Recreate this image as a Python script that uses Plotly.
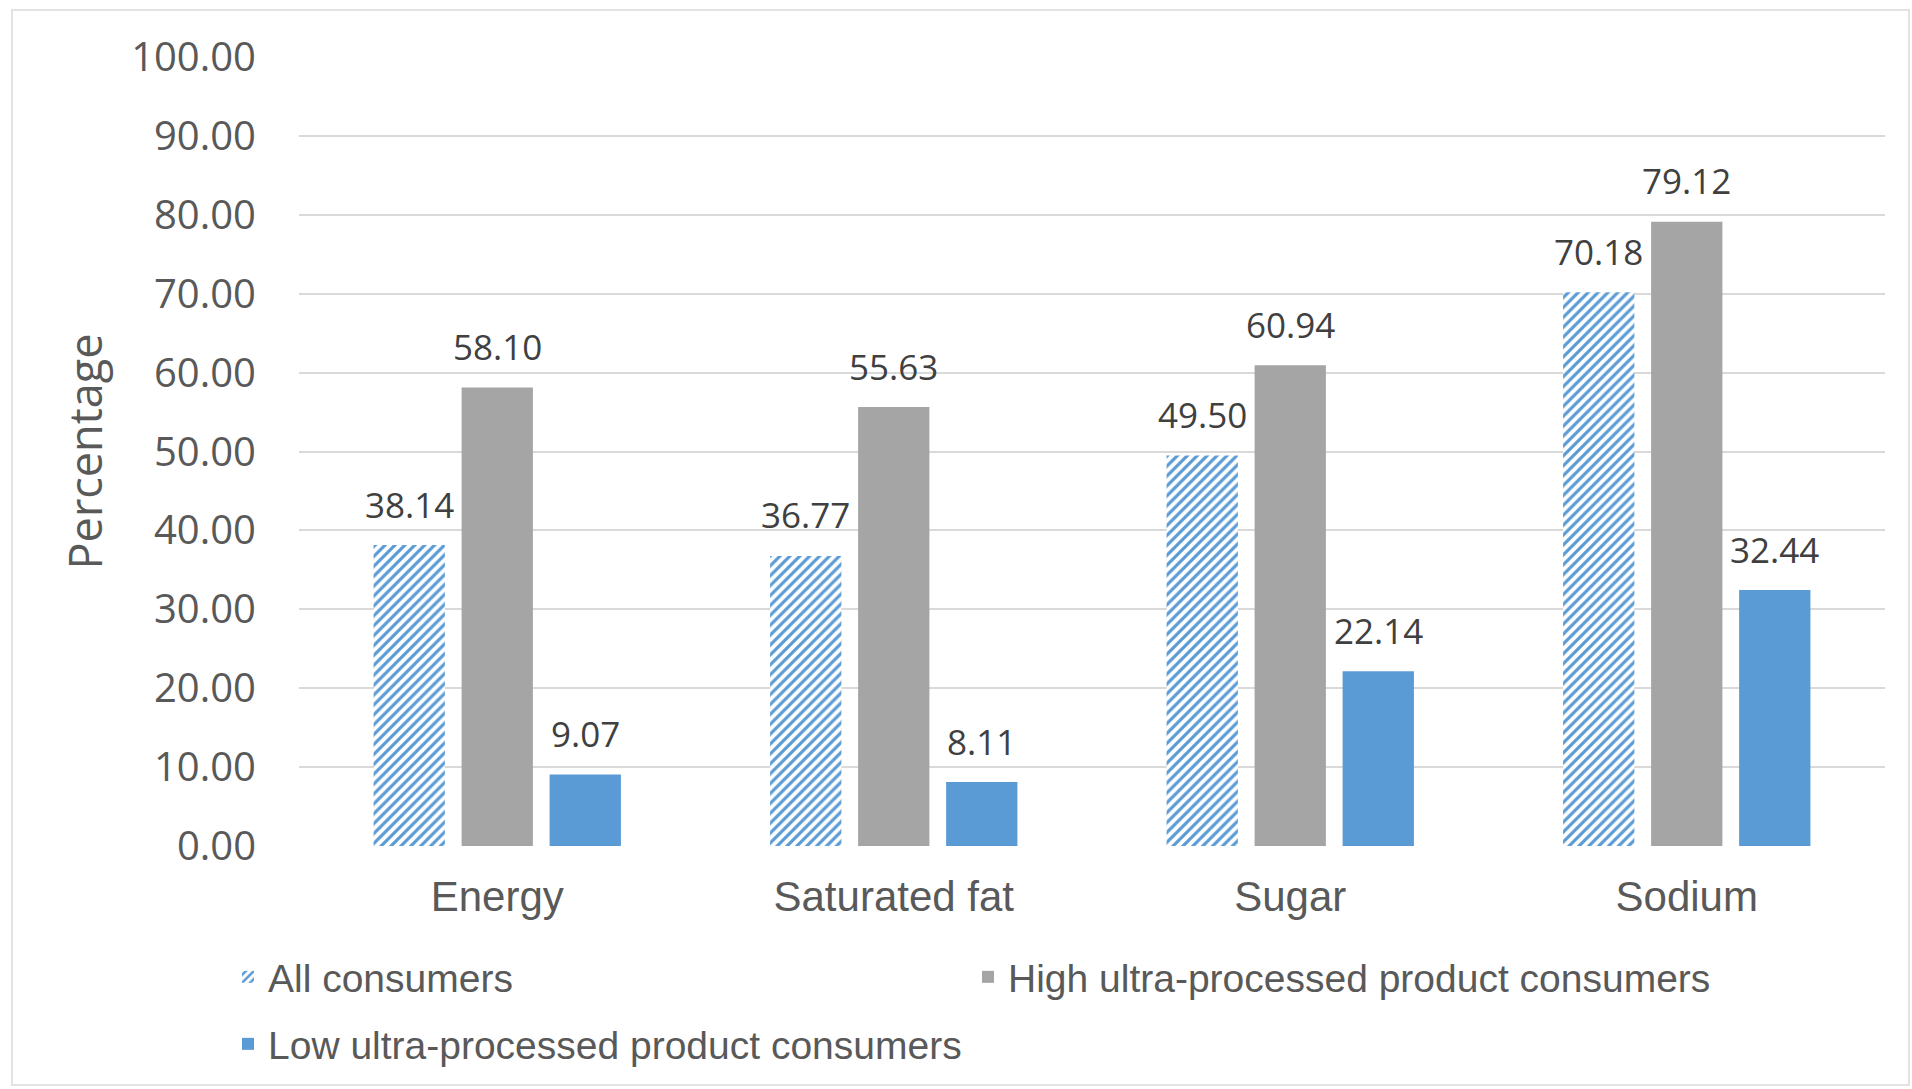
import plotly.graph_objects as go

# Nutrient categories and percentages for each consumer group
categories = ["Energy", "Saturated fat", "Sugar", "Sodium"]
all_consumers = [38.14, 36.77, 49.50, 70.18]
high_upp = [58.10, 55.63, 60.94, 79.12]
low_upp = [9.07, 8.11, 22.14, 32.44]
y_ticks = [0, 10, 20, 30, 40, 50, 60, 70, 80, 90, 100]

series_names = [
    "All consumers",
    "High ultra-processed product consumers",
    "Low ultra-processed product consumers",
]

W, H = 1912, 1089
M_L, M_R, M_T, M_B = 299, 27, 57, 243
BARGAP = 0.334
BARGROUPGAP = 0.19

BLUE = "#5B9BD5"
GREY = "#A5A5A5"
TXT = "#595959"
LBL = "#404040"

fig = go.Figure()

fig.add_trace(go.Bar(
    x=categories, y=all_consumers, name=series_names[0],
    marker=dict(color="white", line=dict(width=0),
                pattern=dict(shape="/", fgcolor=BLUE, bgcolor="white",
                             size=7, solidity=0.45, fillmode="replace")),
    legend="legend",
))
fig.add_trace(go.Bar(
    x=categories, y=high_upp, name=series_names[1],
    marker=dict(color=GREY, line=dict(width=0)),
    legend="legend3",
))
fig.add_trace(go.Bar(
    x=categories, y=low_upp, name=series_names[2],
    marker=dict(color=BLUE, line=dict(width=0)),
    legend="legend2",
))

# Value labels above each bar, offset within the group by slot width
slot = (1 - BARGAP) / 3
for j, vals in enumerate([all_consumers, high_upp, low_upp]):
    for i, v in enumerate(vals):
        fig.add_annotation(
            x=i + (j - 1) * slot, y=v, xref="x", yref="y",
            text=f"{v:.2f}", showarrow=False,
            yanchor="middle", yshift=41,
            font=dict(family="Open Sans", size=35, color=LBL),
        )

# Light outer frame
pw = W - M_L - M_R
ph = H - M_T - M_B
fig.add_shape(
    type="rect", xref="paper", yref="paper", layer="below",
    x0=(12 - M_L) / pw, x1=(1909 - M_L) / pw,
    y0=-(1085 - (H - M_B)) / ph, y1=1 + (M_T - 10) / ph,
    line=dict(color="#E3E3E3", width=2), fillcolor="rgba(0,0,0,0)",
)


def legend_box(x_px, y_px):
    return dict(
        orientation="h", x=(x_px - M_L) / pw, xanchor="left",
        y=-(y_px - (H - M_B)) / ph, yanchor="middle",
        font=dict(family="Liberation Sans", size=39, color=TXT),
        bgcolor="rgba(0,0,0,0)",
    )


fig.update_layout(
    width=W, height=H,
    margin=dict(l=M_L, r=M_R, t=M_T, b=M_B),
    paper_bgcolor="white", plot_bgcolor="white",
    barmode="group", bargap=BARGAP, bargroupgap=BARGROUPGAP,
    showlegend=True,
    legend=legend_box(228, 977),
    legend3=legend_box(968, 977),
    legend2=legend_box(228, 1044),
    xaxis=dict(
        type="category", showgrid=False, zeroline=False,
        showline=False, ticks="",
        tickfont=dict(family="Liberation Sans", size=42, color=TXT),
        ticklabelstandoff=22,
    ),
    yaxis=dict(
        range=[0, 100], tickvals=y_ticks,
        ticktext=[f"{t:.2f}" for t in y_ticks],
        showgrid=True, gridcolor="#D9D9D9", gridwidth=2,
        zeroline=False, showline=False, ticks="",
        tickfont=dict(family="Open Sans", size=40, color=TXT),
        ticklabelstandoff=42,
        title=dict(text="Percentage", standoff=14,
                   font=dict(family="Open Sans", size=45, color=TXT)),
    ),
)

fig.write_html("out.html")
